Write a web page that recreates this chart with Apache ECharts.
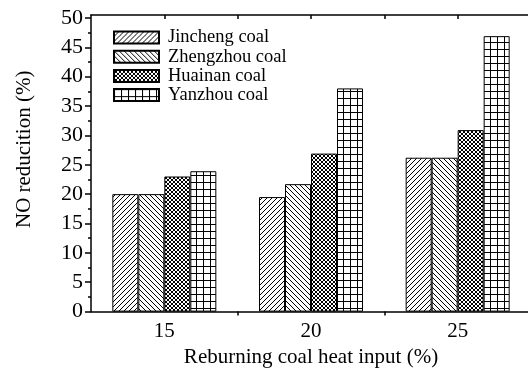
<!DOCTYPE html>
<html><head><meta charset="utf-8">
<script src="https://cdn.jsdelivr.net/npm/echarts@6/dist/echarts.min.js"></script>
<style>html,body{margin:0;padding:0;background:#fff}#c{width:528px;height:369px}</style>
</head><body><div id="c"></div>
<script>
const categories = ['15', '20', '25'];
const seriesNames = ['Jincheng coal', 'Zhengzhou coal', 'Huainan coal', 'Yanzhou coal'];
const jincheng = [20.0, 19.5, 26.2];
const zhengzhou = [20.0, 21.7, 26.2];
const huainan = [23.0, 26.9, 30.9];
const yanzhou = [23.9, 38.0, 46.9];
const yTickValues = [0, 5, 10, 15, 20, 25, 30, 35, 40, 45, 50];
const yMinorTickValues = [2.5, 7.5, 12.5, 17.5, 22.5, 27.5, 32.5, 37.5, 42.5, 47.5];
const xMinorTickValues = [17.5, 22.5];
const xTopTickValues = [15, 17.5, 20, 22.5, 25];
const xTitle = 'Reburning coal heat input (%)';
const yTitle = 'NO reducition (%)';

const FONT = "'Liberation Serif', 'Times New Roman', serif";

function makePattern(size, draw) {
  const c = document.createElement('canvas');
  c.width = size; c.height = size;
  const g = c.getContext('2d');
  g.fillStyle = '#fff'; g.fillRect(0, 0, size, size);
  g.strokeStyle = '#000'; g.fillStyle = '#000'; g.lineWidth = 1;
  draw(g, size);
  return { image: c, repeat: 'repeat' };
}
function fwd(g, s) {
  for (let k = -1; k <= 1; k++) { g.beginPath(); g.moveTo(k * s - 1, s + 1); g.lineTo(k * s + s + 1, -1); g.stroke(); }
}
function back(g, s) {
  for (let k = -1; k <= 1; k++) { g.beginPath(); g.moveTo(k * s - 1, -1); g.lineTo(k * s + s + 1, s + 1); g.stroke(); }
}
const patterns = [
  makePattern(5, fwd),
  makePattern(5, back),
  makePattern(4, (g, s) => { fwd(g, s); back(g, s); }),
  makePattern(7, (g, s) => { g.fillRect(0, 0, 1, s); g.fillRect(0, 0, s, 1); })
];
const values = [jincheng, zhengzhou, huainan, yanzhou];

const chart = echarts.init(document.getElementById('c'), null, { renderer: 'canvas' });
const black = { color: '#000', width: 1.5 };
chart.setOption({
  backgroundColor: '#fff',
  animation: false,
  textStyle: { fontFamily: FONT, color: '#000' },
  grid: { left: 91, width: 440, top: 15, bottom: 57.4, containLabel: false, outerBoundsMode: 'none' },
  legend: {
    orient: 'vertical', left: 113, top: 28, padding: 0, itemGap: 0.2,
    itemWidth: 45, itemHeight: 12, icon: 'rect',
    data: seriesNames,
    textStyle: { fontFamily: FONT, fontSize: 18.5, color: '#000', padding: [0, 0, 0, 4] }
  },
  xAxis: [
    {
      type: 'category', data: categories, position: 'bottom', offset: 0,
      axisLine: { lineStyle: black },
      axisTick: { alignWithLabel: true, length: 6, lineStyle: black },
      axisLabel: { fontFamily: FONT, fontSize: 21, color: '#000', margin: 9 },
      name: xTitle, nameLocation: 'middle', nameGap: 35,
      nameTextStyle: { fontFamily: FONT, fontSize: 21, color: '#000' }
    },
    {
      type: 'value', position: 'bottom', offset: 0, min: 12.5, max: 27.5, interval: 2.5,
      axisLine: { show: false },
      axisTick: { show: true, length: 4, customValues: xMinorTickValues, lineStyle: black },
      axisLabel: { show: false }, splitLine: { show: false }
    },
    {
      type: 'value', position: 'top', offset: 0, min: 12.5, max: 27.5, interval: 2.5,
      axisLine: { show: true, lineStyle: black },
      axisTick: { show: true, inside: true, length: 4, customValues: xTopTickValues, lineStyle: black },
      axisLabel: { show: false }, splitLine: { show: false }
    }
  ],
  yAxis: [
    {
      type: 'value', position: 'left', offset: 0, min: 0, max: 50.5, interval: 5,
      axisLine: { show: true, lineStyle: black },
      axisTick: { show: true, length: 6, customValues: yTickValues, lineStyle: black },
      axisLabel: { customValues: yTickValues, fontFamily: FONT, fontSize: 22, color: '#000', margin: 8 },
      splitLine: { show: false },
      name: yTitle, nameLocation: 'middle', nameGap: 56,
      nameTextStyle: { fontFamily: FONT, fontSize: 21, color: '#000', padding: [0, 0, 0, 28] }
    },
    {
      type: 'value', position: 'left', offset: 0, min: 0, max: 50.5, interval: 5,
      axisLine: { show: false },
      axisTick: { show: true, length: 3, customValues: yMinorTickValues, lineStyle: black },
      axisLabel: { show: false }, splitLine: { show: false }
    }
  ],
  series: seriesNames.map((n, i) => ({
    type: 'bar', name: n, data: values[i], xAxisIndex: 0, yAxisIndex: 0,
    barWidth: 26, barGap: '0%',
    itemStyle: { color: patterns[i], borderColor: '#000', borderWidth: 1 }
  }))
});
</script></body></html>
